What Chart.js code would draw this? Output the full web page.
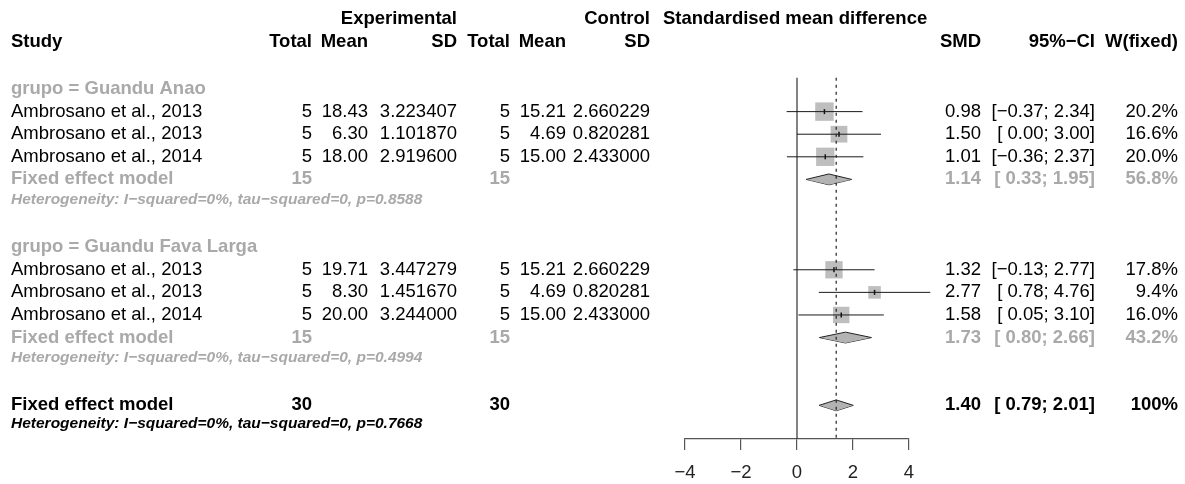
<!DOCTYPE html>
<html>
<head>
<meta charset="utf-8">
<script src="https://cdn.jsdelivr.net/npm/chart.js@4/dist/chart.umd.min.js"></script>
<style>
  body { margin: 0; background: #fff; }
  #wrap { width: 1185px; height: 484px; position: relative; }
</style>
</head>
<body>
<div id="wrap"><canvas id="forest"></canvas></div>
<script>
// study level data
const studyNames = ['Ambrosano et al., 2013', 'Ambrosano et al., 2013', 'Ambrosano et al., 2014',
                    'Ambrosano et al., 2013', 'Ambrosano et al., 2013', 'Ambrosano et al., 2014'];
const studyGroup = [0, 0, 0, 1, 1, 1];
const expTotal = [5, 5, 5, 5, 5, 5];
const expMean = [18.43, 6.30, 18.00, 19.71, 8.30, 20.00];
const expSD = [3.223407, 1.101870, 2.919600, 3.447279, 1.451670, 3.244000];
const ctrlTotal = [5, 5, 5, 5, 5, 5];
const ctrlMean = [15.21, 4.69, 15.00, 15.21, 4.69, 15.00];
const ctrlSD = [2.660229, 0.820281, 2.433000, 2.660229, 0.820281, 2.433000];
const smd = [0.98, 1.50, 1.01, 1.32, 2.77, 1.58];
const ciLow = [-0.37, 0.00, -0.36, -0.13, 0.78, 0.05];
const ciHigh = [2.34, 3.00, 2.37, 2.77, 4.76, 3.10];
const weightFixed = [20.2, 16.6, 20.0, 17.8, 9.4, 16.0];

// subgroups
const groupNames = ['grupo = Guandu Anao', 'grupo = Guandu Fava Larga'];
const groupExpTotal = [15, 15];
const groupCtrlTotal = [15, 15];
const groupSmd = [1.14, 1.73];
const groupLow = [0.33, 0.80];
const groupHigh = [1.95, 2.66];
const groupWeight = [56.8, 43.2];
const groupHetP = ['0.8588', '0.4994'];

// overall fixed effect
const totalExp = 30;
const totalCtrl = 30;
const overallSmd = 1.40;
const overallLow = 0.79;
const overallHigh = 2.01;
const overallWeight = '100%';
const overallHetP = '0.7668';

// axis ticks
const xTicks = [-4, -2, 0, 2, 4];

// work out which row every line sits on
let row = 0;
const studyRow = [];
const groupLabelRow = [], groupFixedRow = [], groupHetRow = [];
groupNames.forEach(function (g, gi) {
  groupLabelRow.push(row++);
  studyGroup.forEach(function (sg, i) { if (sg === gi) studyRow[i] = row++; });
  groupFixedRow.push(row++);
  groupHetRow.push(row++);
  row++;
});
const overallRow = row;
const overallHetRow = row + 1;

const FONT = '"Liberation Sans", Arial, Helvetica, sans-serif';
const FS = 18.5;
const GREY = '#a9a9a9';
const minus = v => v < 0 ? '\u2212' + Math.abs(v).toFixed(2) : ' ' + v.toFixed(2);
const fmtCI = (lo, hi) => '[' + minus(lo) + '; ' + hi.toFixed(2) + ']';
const hetText = p => 'Heterogeneity: I\u2212squared=0%, tau\u2212squared=0, p=' + p;

// diamonds: upper and lower halves filled between each other
const DH = 0.24;
function diamond(est, lo, hi, r) {
  return [
    { type: 'line', data: [{ x: lo, y: r }, { x: est, y: r - DH }, { x: hi, y: r }],
      borderColor: '#222', borderWidth: 1, backgroundColor: '#b3b3b3', fill: '+1', pointRadius: 0, order: 3 },
    { type: 'line', data: [{ x: lo, y: r }, { x: est, y: r + DH }, { x: hi, y: r }],
      borderColor: '#222', borderWidth: 1, fill: false, pointRadius: 0, order: 3 }
  ];
}

const datasets = [];
// confidence interval lines
smd.forEach(function (v, i) {
  datasets.push({ type: 'line', data: [{ x: ciLow[i], y: studyRow[i] }, { x: ciHigh[i], y: studyRow[i] }],
    borderColor: '#1a1a1a', borderWidth: 1, pointRadius: 0, clip: false, order: 0 });
});
// point estimate ticks
datasets.push({ type: 'line', showLine: false, data: smd.map((v, i) => ({ x: v, y: studyRow[i] })),
  pointStyle: 'line', rotation: 90, pointRadius: 2.5, borderColor: '#111', borderWidth: 1.5, order: 1 });
// weight squares
datasets.push({ type: 'line', showLine: false, data: smd.map((v, i) => ({ x: v, y: studyRow[i] })),
  pointStyle: 'rect', pointRadius: weightFixed.map(w => 4.1 * Math.sqrt(w) / Math.SQRT2),
  backgroundColor: '#bebebe', pointBackgroundColor: '#bebebe', pointBorderWidth: 0, borderWidth: 0, order: 2 });
groupSmd.forEach(function (v, gi) {
  datasets.push(...diamond(v, groupLow[gi], groupHigh[gi], groupFixedRow[gi]));
});
datasets.push(...diamond(overallSmd, overallLow, overallHigh, overallRow));
// no effect line and overall estimate line
const lineTop = -0.5, lineBottom = 15.49;
datasets.push({ type: 'line', data: [{ x: 0, y: lineTop }, { x: 0, y: lineBottom }],
  borderColor: '#333', borderWidth: 1.2, pointRadius: 0, order: 4 });
datasets.push({ type: 'line', data: [{ x: overallSmd, y: lineTop }, { x: overallSmd, y: lineBottom }],
  borderColor: '#222', borderWidth: 1.2, borderDash: [3, 4], pointRadius: 0, order: 0 });

// all the table text
const tablePlugin = {
  id: 'tableText',
  afterDraw(chart) {
    const ctx = chart.ctx;
    const y = chart.scales.y;
    function txt(s, x, r, align, opt) {
      opt = opt || {};
      ctx.save();
      ctx.font = (opt.italic ? 'italic ' : '') + (opt.bold ? 'bold ' : '') + (opt.size || FS) + 'px ' + FONT;
      ctx.fillStyle = opt.color || '#000';
      ctx.textAlign = align;
      ctx.textBaseline = 'middle';
      ctx.fillText(s, x, y.getPixelForValue(r));
      ctx.restore();
    }
    const b = { bold: true };
    // headers
    txt('Experimental', 457, -3.1, 'right', b);
    txt('Control', 650, -3.1, 'right', b);
    txt('Standardised mean difference', 663, -3.1, 'left', b);
    txt('Study', 11, -2.08, 'left', b);
    txt('Total', 312, -2.08, 'right', b);
    txt('Mean', 368, -2.08, 'right', b);
    txt('SD', 457, -2.08, 'right', b);
    txt('Total', 510, -2.08, 'right', b);
    txt('Mean', 566, -2.08, 'right', b);
    txt('SD', 650, -2.08, 'right', b);
    txt('SMD', 981, -2.08, 'right', b);
    txt('95%\u2212CI', 1095, -2.08, 'right', b);
    txt('W(fixed)', 1178, -2.08, 'right', b);

    studyNames.forEach(function (n, i) {
      const r = studyRow[i];
      txt(n, 11, r, 'left');
      txt(String(expTotal[i]), 312, r, 'right');
      txt(expMean[i].toFixed(2), 368, r, 'right');
      txt(expSD[i].toFixed(6), 457, r, 'right');
      txt(String(ctrlTotal[i]), 510, r, 'right');
      txt(ctrlMean[i].toFixed(2), 566, r, 'right');
      txt(ctrlSD[i].toFixed(6), 650, r, 'right');
      txt(smd[i].toFixed(2), 981, r, 'right');
      txt(fmtCI(ciLow[i], ciHigh[i]), 1095, r, 'right');
      txt(weightFixed[i].toFixed(1) + '%', 1178, r, 'right');
    });

    const g = { bold: true, color: GREY };
    groupNames.forEach(function (n, gi) {
      txt(n, 11, groupLabelRow[gi], 'left', g);
      const r = groupFixedRow[gi];
      txt('Fixed effect model', 11, r, 'left', g);
      txt(String(groupExpTotal[gi]), 312, r, 'right', g);
      txt(String(groupCtrlTotal[gi]), 510, r, 'right', g);
      txt(groupSmd[gi].toFixed(2), 981, r, 'right', g);
      txt(fmtCI(groupLow[gi], groupHigh[gi]), 1095, r, 'right', g);
      txt(groupWeight[gi].toFixed(1) + '%', 1178, r, 'right', g);
      txt(hetText(groupHetP[gi]), 11, groupHetRow[gi] - 0.12, 'left', { bold: true, italic: true, size: 15.5, color: GREY });
    });

    txt('Fixed effect model', 11, overallRow, 'left', b);
    txt(String(totalExp), 312, overallRow, 'right', b);
    txt(String(totalCtrl), 510, overallRow, 'right', b);
    txt(overallSmd.toFixed(2), 981, overallRow, 'right', b);
    txt(fmtCI(overallLow, overallHigh), 1095, overallRow, 'right', b);
    txt(overallWeight, 1178, overallRow, 'right', b);
    txt(hetText(overallHetP), 11, overallHetRow - 0.2, 'left', { bold: true, italic: true, size: 15.5 });
  }
};

new Chart(document.getElementById('forest'), {
  type: 'line',
  data: { datasets: datasets },
  options: {
    responsive: true,
    maintainAspectRatio: false,
    animation: false,
    events: [],
    layout: { autoPadding: false, padding: { left: 685, right: 276, top: 0, bottom: 0 } },
    plugins: { legend: { display: false }, tooltip: { enabled: false } },
    scales: {
      x: {
        type: 'linear',
        min: -4,
        max: 4,
        afterFit: function (scale) { scale.height = 45; },
        afterBuildTicks: function (scale) { scale.ticks = xTicks.map(v => ({ value: v })); },
        grid: { drawOnChartArea: false, drawTicks: true, tickLength: 11, color: '#555', lineWidth: 1.2 },
        border: { display: true, color: '#555', width: 1.2 },
        ticks: {
          color: '#222',
          padding: 12,
          maxRotation: 0,
          font: { family: FONT, size: FS },
          callback: v => (v < 0 ? '\u2212' + Math.abs(v) : String(v))
        }
      },
      y: {
        type: 'linear',
        display: false,
        reverse: true,
        min: -3.94,
        max: 15.49
      }
    }
  },
  plugins: [tablePlugin]
});
</script>
</body>
</html>
